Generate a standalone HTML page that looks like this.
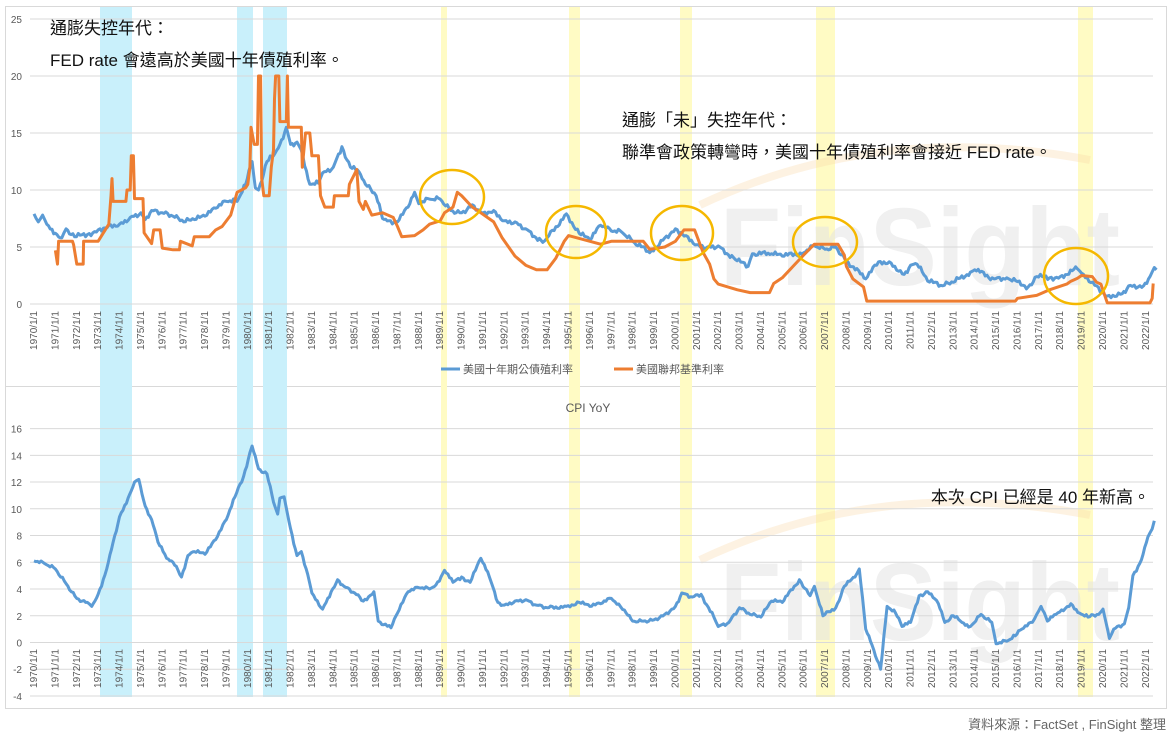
<!DOCTYPE html>
<html><head><meta charset="utf-8"><style>
html,body{margin:0;padding:0;background:#fff;}
svg text{font-family:"Liberation Sans","Noto Sans CJK TC",sans-serif;}
</style></head><body>
<svg id="s" width="1174" height="735" xmlns="http://www.w3.org/2000/svg">
<rect x="0" y="0" width="1174" height="735" fill="#fff"/>
<rect x="5.5" y="6.5" width="1161" height="380" fill="none" stroke="#d9d9d9"/>
<rect x="5.5" y="386.5" width="1161" height="322" fill="none" stroke="#d9d9d9"/>
<g id="bands"></g>
<g id="wm" opacity="0.55">
<path d="M700,205 Q880,120 1090,160" stroke="#f8d9a8" stroke-width="8" fill="none" opacity="0.6"/>
<text x="720" y="285" font-size="110" font-weight="bold" fill="#e3e3e3" textLength="400" lengthAdjust="spacingAndGlyphs">FinSight</text>
<path d="M700,560 Q880,475 1090,515" stroke="#f8d9a8" stroke-width="8" fill="none" opacity="0.6"/>
<text x="720" y="640" font-size="110" font-weight="bold" fill="#e3e3e3" textLength="400" lengthAdjust="spacingAndGlyphs">FinSight</text>
</g>
<g id="grid"></g>
<g id="series"></g>
<g id="circles" fill="none" stroke="#f5b800" stroke-width="2.5">
<ellipse cx="452" cy="197" rx="32" ry="27"/>
<ellipse cx="576" cy="232" rx="30" ry="26"/>
<ellipse cx="682" cy="233" rx="31" ry="27"/>
<ellipse cx="825" cy="242" rx="32" ry="25"/>
<ellipse cx="1076" cy="276" rx="32" ry="28"/>
</g>
<g font-size="17" fill="#111">
<text x="50" y="34">通膨失控年代：</text>
<text x="50" y="66">FED rate 會遠高於美國十年債殖利率。</text>
<text x="622" y="126">通膨「未」失控年代：</text>
<text x="622" y="158">聯準會政策轉彎時，美國十年債殖利率會接近 FED rate。</text>
<text x="1150" y="503" text-anchor="end">本次 CPI 已經是 40 年新高。</text>
</g>
<text x="1166" y="729" text-anchor="end" font-size="13" fill="#666">資料來源：FactSet , FinSight 整理</text>
<line x1="441" y1="369" x2="460" y2="369" stroke="#5b9bd5" stroke-width="3"/>
<text x="463" y="373" font-size="11" fill="#595959">美國十年期公債殖利率</text>
<line x1="614" y1="369" x2="633" y2="369" stroke="#ed7d31" stroke-width="3"/>
<text x="636" y="373" font-size="11" fill="#595959">美國聯邦基準利率</text>
<text x="588" y="412" font-size="12" fill="#595959" text-anchor="middle">CPI YoY</text>
</svg>
<script>
const NS="http://www.w3.org/2000/svg";
function el(p,t,a,txt){const e=document.createElementNS(NS,t);for(const k in a)e.setAttribute(k,a[k]);if(txt!==undefined)e.textContent=txt;document.getElementById(p).appendChild(e);return e;}
const X=y=>34+(y-1970)*21.38;
const TY=v=>304-v*11.4;
const BY=v=>642.5-v*13.37;
[[100,132],[237,253],[263,287]].forEach(b=>el("bands","rect",{x:b[0],y:7,width:b[1]-b[0],height:690,fill:"#c9f0fb"}));
[[441,447],[569,580],[680,692],[816,835],[1078,1093]].forEach(b=>el("bands","rect",{x:b[0],y:7,width:b[1]-b[0],height:690,fill:"#fffbc4"}));
for(let v=0;v<=25;v+=5){el("grid","line",{x1:30,x2:1153,y1:TY(v),y2:TY(v),stroke:"#d9d9d9"});el("grid","text",{x:22,y:TY(v)+4,"text-anchor":"end","font-size":10,fill:"#595959"},v);}
for(let v=-4;v<=16;v+=2){el("grid","line",{x1:30,x2:1153,y1:BY(v),y2:BY(v),stroke:"#d9d9d9"});el("grid","text",{x:22,y:BY(v)+4,"text-anchor":"end","font-size":10,fill:"#595959"},v);}
for(let y=1970;y<=2022;y++){const x=X(y)+3;
el("grid","text",{x:0,y:0,"font-size":10,fill:"#595959","text-anchor":"end",transform:`translate(${x},311) rotate(-90)`},y+"/1/1");
el("grid","text",{x:0,y:0,"font-size":10,fill:"#595959","text-anchor":"end",transform:`translate(${x},649) rotate(-90)`},y+"/1/1");}
function jit(d,amp){const o=[];for(let i=0;i<d.length-2;i+=2){const x0=d[i],y0=d[i+1],x1=d[i+2],y1=d[i+3];const n=Math.max(1,Math.round((x1-x0)*12));for(let k=0;k<n;k++){const t=k/n;o.push(x0+(x1-x0)*t,y0+(y1-y0)*t+(k?amp*Math.sin(x0*37+k*2.3)*Math.cos(k*1.7):0));}}o.push(d[d.length-2],d[d.length-1]);return o;}
function pl(d,fy,col){let s="";for(let i=0;i<d.length;i+=2){s+=X(d[i]).toFixed(1)+","+fy(d[i+1]).toFixed(1)+" ";}el("series","polyline",{points:s,fill:"none",stroke:col,"stroke-width":3,"stroke-linejoin":"round"});}
const t10=[1970,7.9,1970.2,7.2,1970.4,7.8,1970.6,7.0,1971,6.2,1971.3,5.8,1971.5,6.6,1971.9,5.9,1972.5,6.1,1973,6.5,1973.5,6.9,1974,7.0,1974.5,7.6,1975,8.0,1975.2,7.4,1975.5,8.2,1976,8.0,1976.5,7.7,1977,7.2,1977.5,7.4,1978,7.7,1978.5,8.4,1979,9.0,1979.5,9.0,1979.9,10.5,1980.2,12.5,1980.35,10.2,1980.5,10.0,1980.9,12.5,1981.2,13,1981.5,14,1981.8,15.5,1982,14,1982.3,14.2,1982.5,13.5,1982.9,10.5,1983.3,10.6,1983.5,11.5,1984,12,1984.4,13.8,1984.8,12,1985.2,11.6,1985.5,10.5,1986,9.5,1986.3,7.5,1986.6,7.3,1987,7.2,1987.5,8.5,1987.8,9.8,1988,8.8,1988.5,9.2,1989,9.2,1989.5,8.2,1990,8,1990.5,8.7,1991,8,1991.5,8.2,1992,7.3,1992.5,7.2,1993,6.6,1993.8,5.4,1994,5.8,1994.9,7.9,1995.5,6.2,1996,5.6,1996.5,6.9,1997,6.4,1997.5,6.3,1998,5.5,1998.8,4.5,1999.5,5.8,2000,6.6,2000.5,6.0,2001,5.2,2001.5,5.0,2002,5.1,2002.8,3.9,2003.4,3.3,2003.6,4.4,2004.5,4.4,2005,4.2,2006,4.5,2006.5,5.1,2007,4.8,2007.5,5.0,2008,3.8,2008.9,2.2,2009.5,3.7,2010,3.7,2010.7,2.6,2011,3.4,2011.3,3.5,2011.8,2.0,2012.5,1.6,2013,1.9,2013.8,2.8,2014,3.0,2014.9,2.2,2015.5,2.3,2016.5,1.5,2016.9,2.4,2017.5,2.3,2018,2.4,2018.8,3.1,2019,2.7,2019.7,1.6,2020.2,0.7,2020.9,0.9,2021.2,1.6,2021.9,1.6,2022.2,2.4,2022.4,3.2,2022.5,3.0];
const ff=[1971,4.7,1971.1,3.5,1971.15,5.5,1971.8,5.5,1971.85,5.2,1972.0,3.5,1972.3,3.5,1972.32,5.5,1973.0,5.5,1973.5,7,1973.6,9.5,1973.65,11,1973.7,9,1974.3,9,1974.35,10,1974.5,10,1974.55,13,1974.65,13,1974.7,9.25,1975.1,9.25,1975.15,6.25,1975.5,5.3,1975.6,6.5,1975.9,6.5,1976,4.9,1976.5,4.75,1976.8,4.75,1976.85,5.5,1977.4,5.1,1977.5,5.9,1978.2,5.9,1978.5,6.5,1978.8,6.8,1979.2,7.8,1979.5,9.8,1979.9,10.2,1980.0,10.5,1980.1,12,1980.15,15.5,1980.3,14,1980.45,14,1980.5,20,1980.6,20,1980.65,11,1980.75,9.5,1981.0,9.5,1981.1,12,1981.2,13.5,1981.25,18,1981.3,20,1981.45,20,1981.5,16,1981.8,16,1981.85,20,1981.9,15.5,1982.5,15.5,1982.55,12,1982.7,15,1982.9,15,1983,13,1983.3,13,1983.4,9.5,1983.6,8.5,1984,8.5,1984.05,9.5,1984.7,9.5,1984.75,10.5,1985.1,11.8,1985.2,9,1985.4,8.3,1985.5,9,1985.8,7.8,1986.3,8,1986.8,7.6,1987,6.8,1987.2,5.9,1987.8,6,1988.2,6.5,1988.5,7,1989,7.3,1989.2,8,1989.6,8.5,1989.8,9.8,1990,9.5,1990.5,8.5,1990.9,8,1991.5,7.2,1991.9,5.8,1992.5,4.2,1993,3.4,1993.5,3,1994,3,1994.4,4,1994.8,5.5,1995,6,1995.5,5.75,1996,5.5,1996.5,5.25,1997,5.5,1998.5,5.5,1998.8,4.8,1999.5,5,2000,5.5,2000.4,6.5,2000.9,6.5,2001.1,5.5,2001.3,4.5,2001.6,3.5,2001.8,2.2,2002,1.75,2002.9,1.25,2003.5,1,2004.4,1,2004.6,1.8,2005,2.3,2005.5,3.3,2006,4.3,2006.5,5.25,2007.6,5.25,2007.9,4.3,2008,3.3,2008.3,2.2,2008.8,1.5,2008.95,0.25,2015.9,0.25,2016,0.5,2016.9,0.75,2017.2,1,2017.5,1.25,2017.9,1.5,2018.3,1.75,2018.5,2,2018.8,2.25,2019,2.5,2019.5,2.4,2019.7,1.9,2019.9,1.75,2020.2,0.1,2022.2,0.1,2022.3,0.5,2022.35,1.8];
const cpi=[1970,6.1,1970.5,5.9,1971,5.5,1971.5,4.4,1972,3.3,1972.5,3.0,1972.7,2.7,1973,3.6,1973.4,5.5,1973.7,7.5,1974.0,9.4,1974.4,10.8,1974.7,12,1974.9,12.2,1975.2,10.2,1975.5,9.2,1975.8,7.5,1976.2,6.3,1976.5,6.0,1976.9,4.9,1977.2,6.5,1977.5,6.8,1978,6.6,1978.5,7.7,1979,9.2,1979.4,10.9,1979.8,12.4,1980.1,14.2,1980.2,14.7,1980.5,13,1980.9,12.6,1981.2,10.5,1981.4,9.6,1981.5,10.8,1981.7,10.9,1982,8.5,1982.3,6.5,1982.5,6.8,1982.8,5.1,1983.0,3.7,1983.5,2.5,1983.9,3.8,1984.2,4.7,1984.5,4.2,1985,3.7,1985.4,3.1,1985.9,3.8,1986.1,1.6,1986.7,1.1,1987,2.2,1987.5,3.8,1988,4.1,1988.5,4.0,1988.8,4.3,1989.2,5.4,1989.6,4.5,1990,4.9,1990.4,4.5,1990.9,6.3,1991.3,4.9,1991.7,3,1992,2.8,1992.5,3.1,1993,3.2,1993.5,2.8,1994,2.6,1994.9,2.7,1995.5,3,1996,2.7,1996.5,2.9,1997,3.3,1997.7,2.2,1998,1.6,1998.5,1.6,1999,1.7,1999.5,2.1,2000,2.7,2000.3,3.7,2000.8,3.4,2001.2,3.6,2001.8,1.9,2002,1.2,2002.5,1.5,2003,2.6,2003.5,2.1,2004,1.9,2004.5,3.1,2005,3.0,2005.8,4.7,2006.3,3.5,2006.5,4.2,2006.9,2.0,2007.5,2.6,2007.9,4.2,2008.4,4.9,2008.6,5.5,2008.9,1.0,2009.2,-0.2,2009.6,-2.0,2009.9,2.7,2010.3,2.2,2010.6,1.2,2011,1.5,2011.4,3.5,2011.8,3.8,2012.3,2.9,2012.6,1.5,2013,2.0,2013.4,1.5,2013.8,1.2,2014.3,2.1,2014.8,1.5,2015,-0.1,2015.5,0.1,2015.9,0.5,2016.2,1.0,2016.7,1.5,2016.9,2.1,2017.1,2.7,2017.4,1.6,2017.8,2.1,2018.5,2.9,2018.9,2.2,2019.3,1.9,2019.8,2.1,2020.0,2.5,2020.3,0.3,2020.5,1.0,2021,1.4,2021.2,2.6,2021.4,5.0,2021.8,6.2,2022.1,7.9,2022.3,8.5,2022.4,9.1];
pl(jit(t10,0.25),TY,"#5b9bd5");pl(ff,TY,"#ed7d31");pl(jit(cpi,0.15),BY,"#5b9bd5");
</script>
</body></html>
